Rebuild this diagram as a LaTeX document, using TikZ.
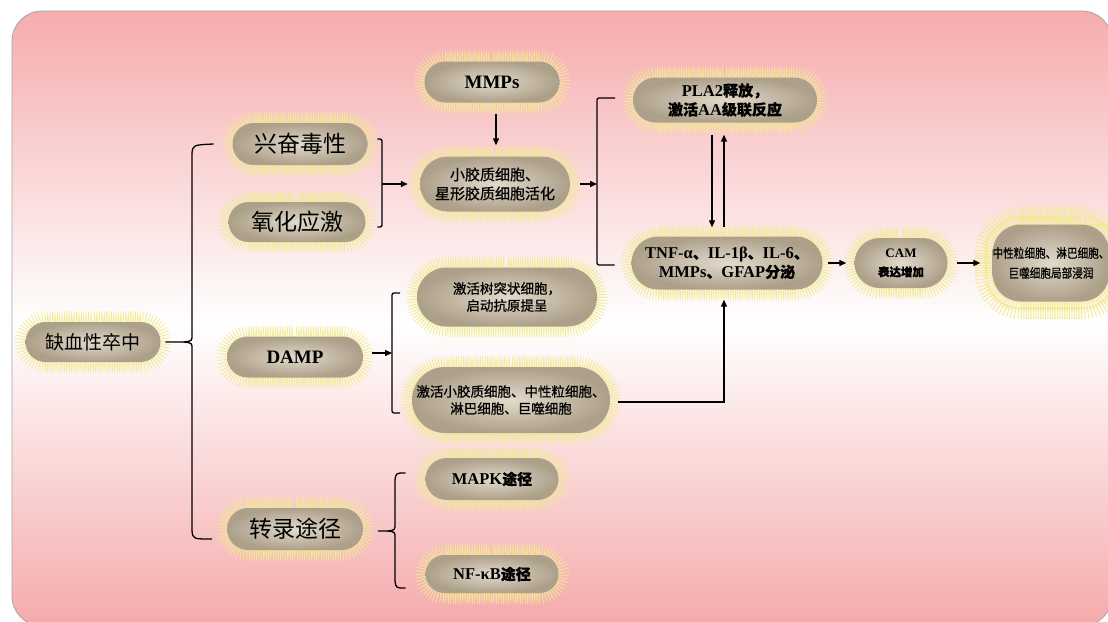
\documentclass[tikz,border=0pt]{standalone}
\usepackage{fontspec}
\setmainfont{Liberation Serif}
\newfontfamily\zh{Noto Sans CJK SC}
\newfontfamily\zhb[FakeBold=0.7]{Noto Sans CJK SC}
\newfontfamily\zhn[FakeBold=0.7,FakeStretch=0.85]{Noto Sans CJK SC}
\newcommand\zc[1]{{\zhb\fontsize{15pt}{19pt}\selectfont #1}}
\usetikzlibrary{shapes.misc,arrows.meta,decorations.pathmorphing}
\definecolor{bgpink}{HTML}{F5A9AA}
\definecolor{halo}{HTML}{F1EA8E}
\definecolor{tanin}{HTML}{E2DACB}
\definecolor{tanout}{HTML}{ADA08A}
\tikzset{
  halostyle/.style={preaction={draw=halo, line width=0.55pt, line join=round, decorate,
      decoration={zigzag, segment length=2.4pt, amplitude=10.5pt, pre length=1pt, post length=1pt}}},
  pill/.style={rounded rectangle, inner sep=0pt, align=center, halostyle,
    inner color=tanin, outer color=tanout},
  rbox/.style={rectangle, rounded corners=28pt, inner sep=0pt, align=center, halostyle,
    inner color=tanin, outer color=tanout},
  big/.style={font=\zh\fontsize{23pt}{27pt}\selectfont},
  mid/.style={font=\fontsize{19pt}{22pt}\selectfont\bfseries},
  sml/.style={font=\fontsize{16.5pt}{19pt}\selectfont\bfseries},
  ln/.style={line width=1.3pt, line cap=round},
  arr/.style={line width=1.3pt, -{Triangle[length=7pt,width=6pt]}}
}
\begin{document}
\begin{tikzpicture}[x=1pt,y=-1pt]
\useasboundingbox (0,0) rectangle (1108,621);
\clip (0,0) rectangle (1108,621);
\fill[white] (0,0) rectangle (1108,621);
\begin{scope}
\clip[rounded corners=30pt] (12,11) rectangle (1112,626);
\shade[top color=bgpink, bottom color=white] (0,0) rectangle (1120,325);
\shade[top color=white, bottom color=bgpink] (0,324) rectangle (1120,630);
\end{scope}
\draw[gray!70, line width=0.8pt, rounded corners=30pt] (12,11) rectangle (1112,626);

% nodes
\node[pill, minimum width=135pt, minimum height=40pt, font=\zh\fontsize{19pt}{22pt}\selectfont] (isch) at (93,342) {缺血性卒中};
\node[pill, big, minimum width=135pt, minimum height=42pt] (exc) at (300,144) {兴奋毒性};
\node[pill, big, minimum width=137pt, minimum height=40pt] (oxi) at (297,222) {氧化应激};
\node[pill, mid, minimum width=136pt, minimum height=41pt] (damp) at (295,357) {DAMP};
\node[pill, big, minimum width=136pt, minimum height=42pt] (trans) at (295,529) {转录途径};
\node[pill, mid, minimum width=135pt, minimum height=41pt] (mmp) at (492,82) {MMPs};
\node[pill, font=\zhb\fontsize{15pt}{19pt}\selectfont, minimum width=150pt, minimum height=55pt] (glia) at (495,184) {小胶质细胞、\\星形胶质细胞活化};
\node[pill, sml, minimum width=184pt, minimum height=45pt] (pla) at (725,100) {PLA2\zc{释放，}\\\zc{激活}AA\zc{级联反应}};
\node[pill, sml, minimum width=191pt, minimum height=53pt] (tnf) at (727,263) {TNF-α\zc{、}IL-1β\zc{、}IL-6\zc{、}\\MMPs\zc{、}GFAP\zc{分泌}};
\node[pill, font=\fontsize{13pt}{19pt}\selectfont\bfseries, minimum width=93pt, minimum height=50pt] (cam) at (901,263) {CAM\\{\zhb\fontsize{11.5pt}{19pt}\selectfont 表达增加}};
\node[rbox, font=\zhn\fontsize{12.5pt}{20pt}\selectfont, minimum width=108pt, minimum height=77pt] (inf) at (1051,263) {中性粒细胞、淋巴细胞、\\巨噬细胞局部浸润};
\node[pill, font=\zhb\fontsize{13.5pt}{17pt}\selectfont, minimum width=180pt, minimum height=59pt] (dc) at (507,297) {激活树突状细胞，\\启动抗原提呈};
\node[pill, font=\zhb\fontsize{13.5pt}{17pt}\selectfont, minimum width=198pt, minimum height=66pt] (act) at (511,400) {激活小胶质细胞、中性粒细胞、\\淋巴细胞、巨噬细胞};
\node[pill, sml, minimum width=133pt, minimum height=42pt] (mapk) at (492,479) {MAPK\zc{途径}};
\node[pill, sml, minimum width=133pt, minimum height=38pt] (nfkb) at (492,574) {NF-κB\zc{途径}};

% big brace
\draw[ln] ([xshift=-19pt]exc.west) .. controls (193,145) .. (192,153) -- (192,335) .. controls (192,341) .. (184,342) -- ([xshift=5pt]isch.east);
\draw[ln] ([xshift=-15pt,yshift=-10pt]trans.west) .. controls (193,539) .. (192,531) -- (192,349) .. controls (192,343) .. (184,342);

% exc/oxi bracket
\draw[ln, rounded corners=2pt] ([xshift=10pt,yshift=5pt]exc.east) -- (382,139) -- (382,227) -- ([xshift=12pt,yshift=-5pt]oxi.east);
\draw[arr] (382,184) -- ([xshift=-12pt]glia.west);

% MMPs -> glia
\draw[arr] ([xshift=4pt,yshift=-11pt]mmp.south) -- ([xshift=1pt,yshift=11pt]glia.north);

% glia -> bracket
\draw[arr] ([xshift=10pt]glia.east) -- (597,184);
\draw[ln, rounded corners=2pt] ([xshift=-18pt,yshift=2pt]pla.west) -- (597,98) -- (597,265) -- ([xshift=-17pt,yshift=-2pt]tnf.west);

% PLA <-> TNF
\draw[arr] ([xshift=-13pt,yshift=-12pt]pla.south) -- ([xshift=-15pt,yshift=9pt]tnf.north);
\draw[arr] ([xshift=-3pt,yshift=9pt]tnf.north) -- ([xshift=-1pt,yshift=-12pt]pla.south);

% TNF -> CAM -> inf
\draw[arr] ([xshift=5pt]tnf.east) -- ([xshift=-8pt]cam.west);
\draw[arr] ([xshift=9pt]cam.east) -- ([xshift=-12pt]inf.west);

% DAMP bracket
\draw[arr] ([xshift=9pt,yshift=4pt]damp.east) -- (392,353);
\draw[ln, rounded corners=2pt] ([xshift=-17pt,yshift=4pt]dc.west) -- (392,293) -- (392,413) -- ([xshift=-12pt,yshift=-13pt]act.west);

% act -> TNF
\draw[arr] ([xshift=8pt,yshift=-2pt]act.east) -| ([xshift=-3pt,yshift=-10pt]tnf.south);

% trans brace
\draw[ln] ([xshift=-20pt,yshift=6pt]mapk.west) .. controls (396,473) .. (395,480) -- (395,524) .. controls (395,530) .. (388,531) -- ([xshift=15pt,yshift=-2pt]trans.east);
\draw[ln] ([xshift=-20pt,yshift=-14pt]nfkb.west) .. controls (396,588) .. (395,581) -- (395,538) .. controls (395,532) .. (388,531);
\end{tikzpicture}
\end{document}
